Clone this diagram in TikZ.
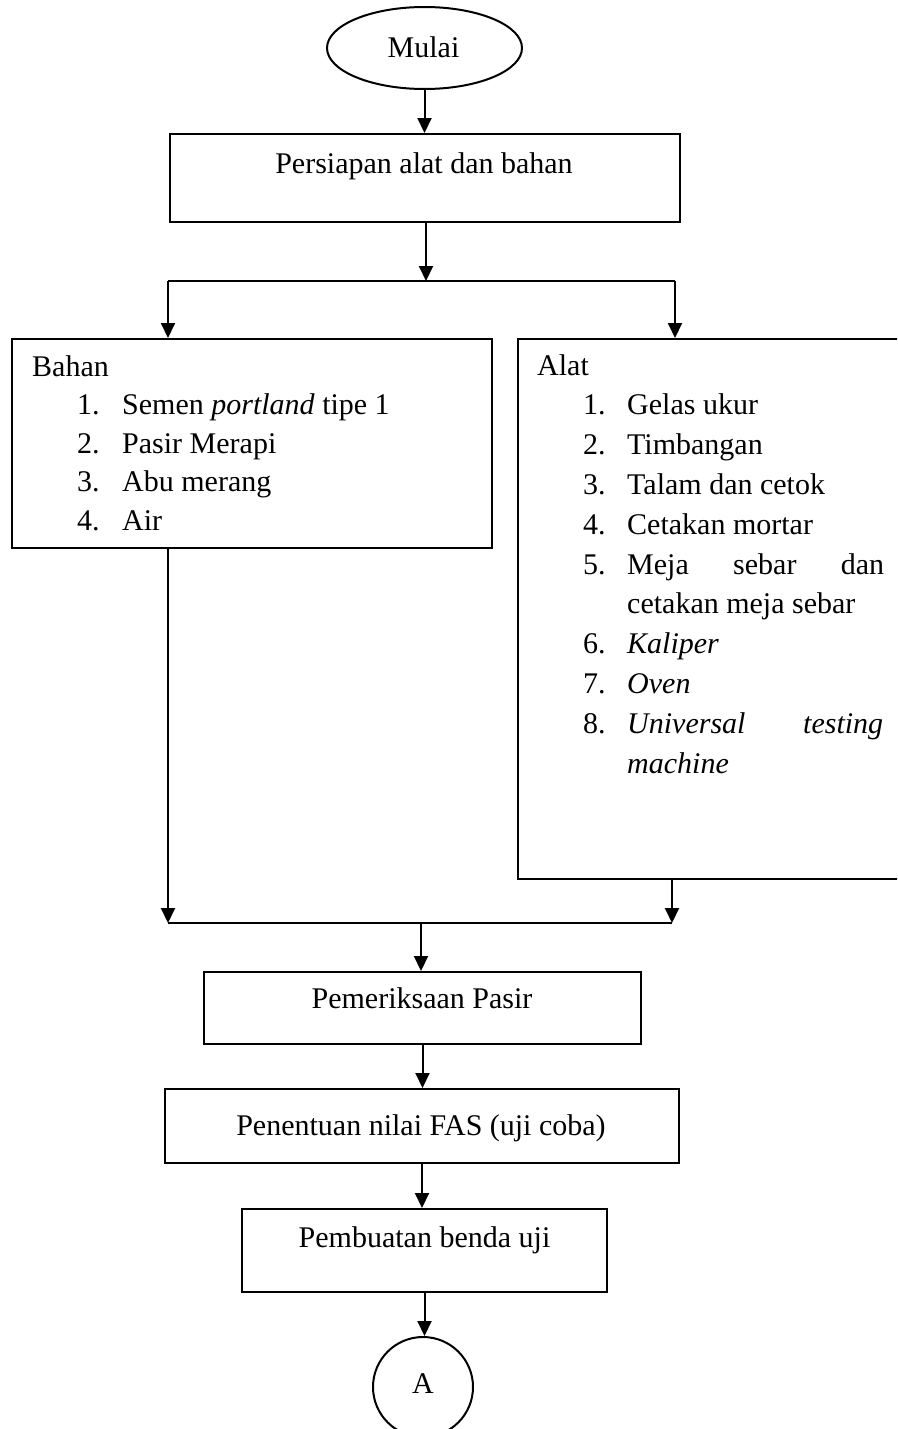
\documentclass[tikz,border=0pt]{standalone}
\usepackage{fontspec}
\setmainfont{Liberation Serif}
\usetikzlibrary{arrows.meta,shapes.geometric}
\begin{document}
\begin{tikzpicture}[x=1pt,y=-1pt,
  ln/.style={line width=2pt},
  arr/.style={line width=2pt,-{Triangle[length=15pt,width=14pt]}},
  box/.style={draw,line width=2pt,rectangle,inner sep=0pt},
  lbl/.style={inner sep=0pt,anchor=base,font=\fontsize{30pt}{36pt}\selectfont},
  lt/.style={inner sep=0pt,anchor=base west,font=\fontsize{30pt}{36pt}\selectfont}]
\useasboundingbox (0,0) rectangle (897,1429);
\clip (0,0) rectangle (897,1429);
\fill[white] (0,0) rectangle (897,1429);

% shapes
\node[draw,ellipse,line width=2pt,minimum width=195pt,minimum height=82pt,inner sep=0pt] (mulai) at (424.5,48) {};
\node[box,minimum width=510pt,minimum height=88pt] (persiapan) at (425,178) {};
\node[box,minimum width=480pt,minimum height=209pt] (bahan) at (252,443.5) {};
\node[box,minimum width=392pt,minimum height=540pt] (alat) at (714,609) {};
\node[box,minimum width=437pt,minimum height=72pt] (pemeriksaan) at (422.5,1008) {};
\node[box,minimum width=514pt,minimum height=74pt] (penentuan) at (422,1126) {};
\node[box,minimum width=365pt,minimum height=83pt] (pembuatan) at (424.5,1250.5) {};
\node[draw,circle,line width=2pt,minimum size=100pt,inner sep=0pt] (A) at (423,1387) {};

% texts
\node[lbl] (tMulai) at (423.5,57) {Mulai};
\node[lbl] (tPers) at (424,173) {Persiapan alat dan bahan};
\node[lbl] (tPem) at (422,1008) {Pemeriksaan Pasir};
\node[lbl] (tPen) at (421,1135) {Penentuan nilai FAS (uji coba)};
\node[lbl] (tPbu) at (424.5,1247) {Pembuatan benda uji};
\node[lbl] (tA) at (423,1393) {A};

\node[lt] (tBahan) at (32,376) {Bahan};
\node[lt] (b1n) at (77,414.5) {1.};
\node[lt] (b1t) at (122,414.5) {Semen \textit{portland} tipe 1};
\node[lt] (b2n) at (77,453) {2.};
\node[lt] (b2t) at (122,453) {Pasir Merapi};
\node[lt] (b3n) at (77,491.5) {3.};
\node[lt] (b3t) at (122,491.5) {Abu merang};
\node[lt] (b4n) at (77,530) {4.};
\node[lt] (b4t) at (122,530) {Air};

\node[lt] (tAlat) at (537,375) {Alat};
\node[lt] (a1n) at (583,414.8) {1.};
\node[lt] (a1t) at (627,414.8) {Gelas ukur};
\node[lt] (a2n) at (583,454.6) {2.};
\node[lt] (a2t) at (627,454.6) {Timbangan};
\node[lt] (a3n) at (583,494.4) {3.};
\node[lt] (a3t) at (627,494.4) {Talam dan cetok};
\node[lt] (a4n) at (583,534.2) {4.};
\node[lt] (a4t) at (627,534.2) {Cetakan mortar};
\node[lt] (a5n) at (583,574) {5.};
\node[lt] (a5t) at (627,574) {\makebox[257pt][l]{Meja\hfill sebar\hfill dan}};
\node[lt] (a5u) at (627,613.8) {cetakan meja sebar};
\node[lt] (a6n) at (583,653.6) {6.};
\node[lt] (a6t) at (627,653.6) {\textit{Kaliper}};
\node[lt] (a7n) at (583,693.4) {7.};
\node[lt] (a7t) at (627,693.4) {\textit{Oven}};
\node[lt] (a8n) at (583,733.2) {8.};
\node[lt] (a8t) at (627,733.2) {\makebox[256pt][l]{\textit{Universal}\hfill\textit{testing}}};
\node[lt] (a8u) at (627,773) {\textit{machine}};

% connectors
\coordinate (split) at (426,281);
\coordinate (splitL) at (168,281);
\coordinate (splitR) at (675,281);
\coordinate (joinL) at (168,923);
\coordinate (joinR) at (672,923);
\coordinate (joinM) at (421,923);

\draw[arr] (mulai.south) -- (mulai.south |- persiapan.north);
\draw[arr] (persiapan.south -| split) -- (split);
\draw[ln] (splitL) -- (splitR);
\draw[arr] (splitL) -- (splitL |- bahan.north);
\draw[arr] (splitR) -- (splitR |- alat.north);
\draw[arr] (joinL |- bahan.south) -- (joinL);
\draw[arr] (joinR |- alat.south) -- (joinR);
\draw[ln] (joinL) -- (joinR);
\draw[arr] (joinM) -- (joinM |- pemeriksaan.north);
\draw[arr] (pemeriksaan.south) -- (pemeriksaan.south |- penentuan.north);
\draw[arr] (penentuan.south) -- (penentuan.south |- pembuatan.north);
\draw[arr] (pembuatan.south) -- (pembuatan.south |- A.north);
\end{tikzpicture}
\end{document}
